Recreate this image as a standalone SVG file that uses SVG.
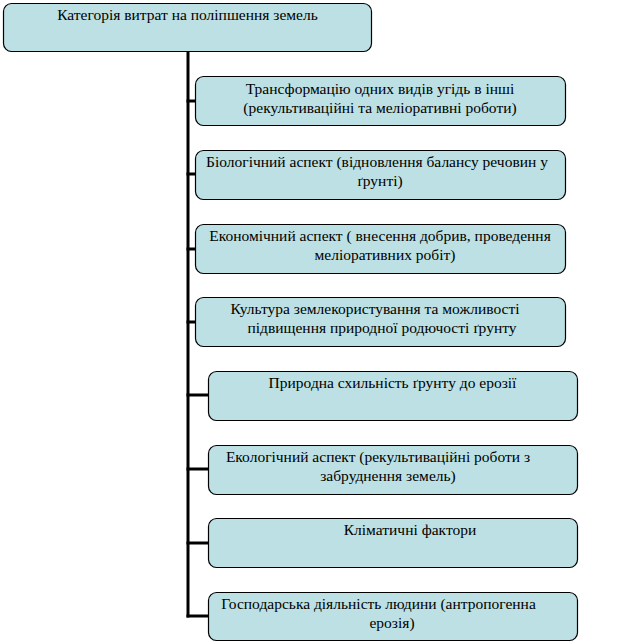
<svg xmlns="http://www.w3.org/2000/svg" width="619" height="644" viewBox="0 0 619 644">
<style>
.box{fill:#BCE0E3;stroke:#000;stroke-width:1.2}
.t{font-family:"Liberation Serif","DejaVu Serif",serif;font-size:15.5px;fill:#000;text-anchor:middle}
.c{stroke:#000;stroke-width:3;fill:none}
</style>
<rect width="619" height="644" fill="#fff"/>
<g id="connectors">
<line class="c" x1="188" y1="51" x2="188" y2="617.5"/>
<line class="c" x1="186.5" y1="101" x2="196" y2="101"/>
<line class="c" x1="186.5" y1="174" x2="196" y2="174"/>
<line class="c" x1="186.5" y1="249" x2="196" y2="249"/>
<line class="c" x1="186.5" y1="322" x2="196" y2="322"/>
<line class="c" x1="186.5" y1="395" x2="209" y2="395"/>
<line class="c" x1="186.5" y1="469" x2="209" y2="469"/>
<line class="c" x1="186.5" y1="543" x2="209" y2="543"/>
<line class="c" x1="186.5" y1="616" x2="209" y2="616"/>
</g>
<g id="root">
<rect class="box" x="3.5" y="3.5" width="368" height="48" rx="8"/>
<text class="t" x="187.5" y="20">Категорія витрат на поліпшення земель</text>
</g>
<g id="n1">
<rect class="box" x="195.5" y="76.5" width="370" height="49" rx="8"/>
<text class="t" x="380" y="94">Трансформацію одних видів угідь в інші</text>
<text class="t" x="380" y="113">(рекультиваційні та меліоративні роботи)</text>
</g>
<g id="n2">
<rect class="box" x="195.5" y="150.5" width="370" height="49" rx="8"/>
<text class="t" x="377" y="167">Біологічний аспект (відновлення балансу речовин у</text>
<text class="t" x="380" y="186">ґрунті)</text>
</g>
<g id="n3">
<rect class="box" x="195.5" y="224.5" width="370" height="49" rx="8"/>
<text class="t" x="380" y="241">Економічний аспект ( внесення добрив, проведення</text>
<text class="t" x="385" y="260">меліоративних робіт)</text>
</g>
<g id="n4">
<rect class="box" x="195.5" y="297.5" width="370" height="49" rx="8"/>
<text class="t" x="375" y="314">Культура землекористування та можливості</text>
<text class="t" x="382" y="333">підвищення природної родючості ґрунту</text>
</g>
<g id="n5">
<rect class="box" x="208.5" y="371.5" width="369" height="49" rx="8"/>
<text class="t" x="392.5" y="388">Природна схильність ґрунту до ерозії</text>
</g>
<g id="n6">
<rect class="box" x="208.5" y="445.5" width="369" height="49" rx="8"/>
<text class="t" x="378" y="462">Екологічний аспект (рекультиваційні роботи з</text>
<text class="t" x="388" y="481">забруднення земель)</text>
</g>
<g id="n7">
<rect class="box" x="208.5" y="518.5" width="369" height="49" rx="8"/>
<text class="t" x="410" y="535">Кліматичні фактори</text>
</g>
<g id="n8">
<rect class="box" x="208.5" y="592.5" width="369" height="48" rx="8"/>
<text class="t" x="378.5" y="609">Господарська діяльність людини (антропогенна</text>
<text class="t" x="392" y="628">ерозія)</text>
</g>
</svg>
